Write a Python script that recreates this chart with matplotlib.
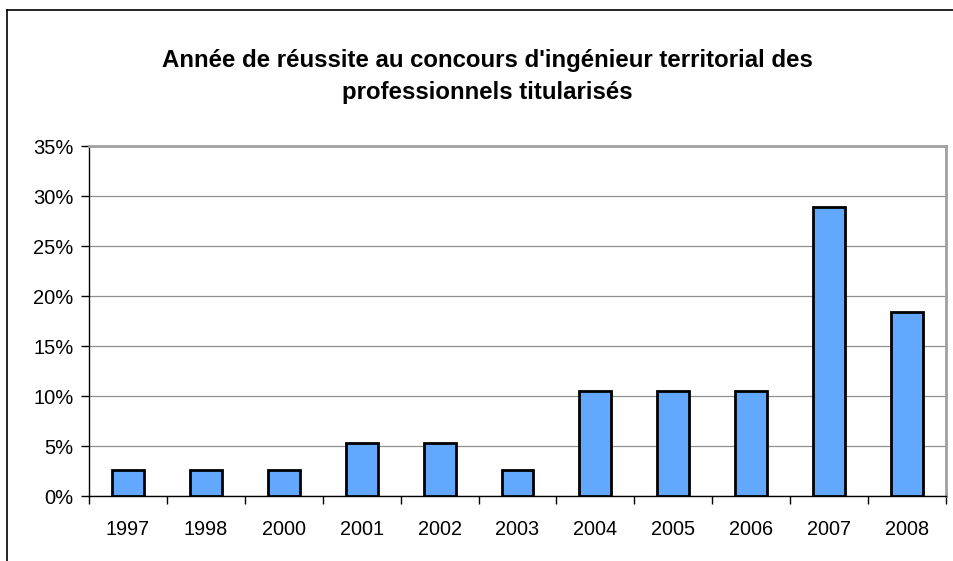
import matplotlib.pyplot as plt
from matplotlib.lines import Line2D
import numpy as np

years = ['1997', '1998', '2000', '2001', '2002', '2003',
         '2004', '2005', '2006', '2007', '2008']
shares = [2.63, 2.63, 2.63, 5.26, 5.26, 2.63,
          10.53, 10.53, 10.53, 28.95, 18.42]
yticks = [0, 5, 10, 15, 20, 25, 30, 35]

plt.rcParams['font.family'] = ['Liberation Sans', 'DejaVu Sans']

fig = plt.figure(figsize=(9.54, 5.61), dpi=100)
ax = fig.add_axes([89 / 954, 1 - 496 / 561, (946 - 89) / 954, (496 - 146) / 561])

# outer chart frame, cut off at right and bottom like the source
top = 1 - 10 / 561
left = 7.5 / 954
fig.lines.append(Line2D([left, 1.05], [top, top], transform=fig.transFigure,
                        color='black', linewidth=1.2))
fig.lines.append(Line2D([left, left], [-0.05, top], transform=fig.transFigure,
                        color='black', linewidth=1.2))

x = np.arange(len(years))
ax.bar(x, shares, width=0.41, color='#62A8FF', edgecolor='black',
       linewidth=2, zorder=3)

ax.set_xlim(-0.5, len(years) - 0.5)
ax.set_ylim(0, 35)
ax.set_yticks(yticks)
ax.set_yticklabels([f'{v}%' for v in yticks], fontsize=14.5)
ax.set_xticks(x)
ax.set_xticklabels(years, fontsize=14.3)
ax.set_xticks(np.arange(len(years) + 1) - 0.5, minor=True)
ax.tick_params(axis='x', which='major', length=0, pad=17)
ax.tick_params(axis='x', which='minor', length=6, width=1, direction='out')
ax.tick_params(axis='y', length=6, width=1, direction='out', pad=5)
ax.yaxis.grid(True, color='#909090', linewidth=0.9, zorder=0)

for side in ['top', 'right']:
    ax.spines[side].set_color('#A0A0A0')
    ax.spines[side].set_linewidth(2)
for side in ['left', 'bottom']:
    ax.spines[side].set_color('black')
    ax.spines[side].set_linewidth(1)

fig.text(487 / 954, 1 - 67 / 561, "Année de réussite au concours d'ingénieur territorial des",
         ha='center', va='baseline', fontsize=17.3, fontweight='bold')
fig.text(487 / 954, 1 - 99 / 561, 'professionnels titularisés',
         ha='center', va='baseline', fontsize=17.3, fontweight='bold')

fig.savefig('out.png', dpi=100)
